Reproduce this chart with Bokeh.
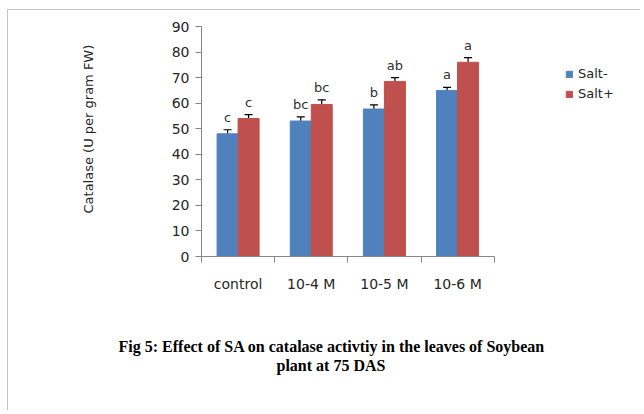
from bokeh.plotting import figure
from bokeh.models import (ColumnDataSource, Range1d, FixedTicker, SingleIntervalTicker,
                          Whisker, TeeHead, Legend, LegendItem, Title)
from bokeh.core.properties import value
from bokeh.embed import file_html
from bokeh.resources import INLINE

categories = ["control", "10-4 M", "10-5 M", "10-6 M"]
salt_minus = [48, 53, 57.7, 65]
salt_plus = [54, 59.5, 68.5, 76]
err_minus = [1.6, 1.6, 1.6, 1.2]
err_plus = [1.5, 1.8, 1.5, 1.8]
letters_minus = ["c", "bc", "b", "a"]
letters_plus = ["c", "bc", "ab", "a"]
series_names = ["Salt-", "Salt+"]
y_title = "Catalase (U per gram FW)"
caption_lines = ["Fig 5: Effect of SA on catalase activtiy in the leaves  of  Soybean",
                 "plant at 75 DAS"]
y_ticks_interval = 10

BLUE = "#4F81BD"
RED = "#C0504D"
FONT = "DejaVu Sans"
bar_w = 0.287

def make_src(vals, errs, letters, shift):
    xs = [i + 0.5 + shift for i in range(len(categories))]
    return ColumnDataSource(dict(
        x=xs, top=vals,
        upper=[v + e for v, e in zip(vals, errs)],
        lower=[v - e for v, e in zip(vals, errs)],
        letter=letters))

src_m = make_src(salt_minus, err_minus, letters_minus, -bar_w / 2)
src_p = make_src(salt_plus, err_plus, letters_plus, bar_w / 2)

# frame extends to the right edge so the legend can sit inside it;
# the x axis line is bounded to the category span
p = figure(width=640, height=410, output_backend="svg", toolbar_location=None,
           x_range=Range1d(0, 6), y_range=Range1d(0, 90),
           min_border_left=201, min_border_right=0, min_border_top=26, min_border_bottom=154)
p.outline_line_color = None
p.xgrid.visible = False
p.ygrid.visible = False
p.background_fill_alpha = 0
p.border_fill_alpha = 0
p.styles = {"background": "linear-gradient(#c4c4c4,#c4c4c4) 7px 9px / 1px 100% no-repeat, "
                          "linear-gradient(#c4c4c4,#c4c4c4) 7px 9px / 100% 1px no-repeat, white"}

r_m = p.vbar(x="x", top="top", width=bar_w, source=src_m, fill_color=BLUE, line_color=BLUE)
r_p = p.vbar(x="x", top="top", width=bar_w, source=src_p, fill_color=RED, line_color=RED)

for src in (src_m, src_p):
    p.add_layout(Whisker(source=src, base="x", upper="upper", lower="lower",
                         line_color="black", line_width=1.2,
                         upper_head=TeeHead(size=8, line_color="black", line_width=1.2),
                         lower_head=TeeHead(size=8, line_color="black", line_width=1.2)))
    p.text(x="x", y="upper", text="letter", source=src, text_align="center",
           text_baseline="bottom", y_offset=-5, text_font=value(FONT),
           text_font_size="13px", text_color="#303030")

# y axis
ya = p.yaxis[0]
ya.ticker = SingleIntervalTicker(interval=y_ticks_interval, num_minor_ticks=0)
ya.axis_line_color = "#868686"
ya.major_tick_line_color = "#868686"
ya.major_tick_out = 6
ya.major_tick_in = 0
ya.minor_tick_line_color = None
ya.major_label_text_font = FONT
ya.major_label_text_font_size = "14px"
ya.major_label_text_color = "#262626"
ya.major_label_standoff = 6

# y axis title, as a side title so it can be shifted up
p.add_layout(Title(text=y_title, align="left", offset=43, standoff=145,
                   text_font=FONT, text_font_style="normal",
                   text_font_size="13px", text_color="#262626"), "left")

# x axis
xa = p.xaxis[0]
centers = [i + 0.5 for i in range(len(categories))]
xa.bounds = (0, len(categories))
xa.ticker = FixedTicker(ticks=centers, minor_ticks=list(range(len(categories) + 1)))
xa.major_label_overrides = {c: name for c, name in zip(centers, categories)}
xa.axis_line_color = "#868686"
xa.major_tick_line_color = None
xa.major_tick_out = 0
xa.major_tick_in = 0
xa.minor_tick_line_color = "#868686"
xa.minor_tick_out = 6
xa.minor_tick_in = 0
xa.major_label_text_font = FONT
xa.major_label_text_font_size = "14px"
xa.major_label_text_color = "#262626"
xa.major_label_standoff = 13

# legend
legend = Legend(items=[LegendItem(label=series_names[0], renderers=[r_m]),
                       LegendItem(label=series_names[1], renderers=[r_p])],
                location=(364, 155), padding=0, margin=0, spacing=5,
                glyph_width=8, glyph_height=8, label_standoff=5,
                label_text_font=FONT, label_text_font_size="13px",
                label_text_color="#262626",
                background_fill_alpha=0, border_line_alpha=0)
p.add_layout(legend)

# blank spacer between the axis and the caption
p.add_layout(Title(text=" ", text_font_size="1px", standoff=38), "below")
# caption, two lines
for txt, off, so in ((caption_lines[0], -83, 0), (caption_lines[1], 75, 0)):
    p.add_layout(Title(text=txt, align="left", offset=off, standoff=so,
                       text_font="Liberation Serif", text_font_style="bold",
                       text_font_size="16px", text_color="black"), "below")

open("out.html", "w").write(file_html(p, INLINE))
